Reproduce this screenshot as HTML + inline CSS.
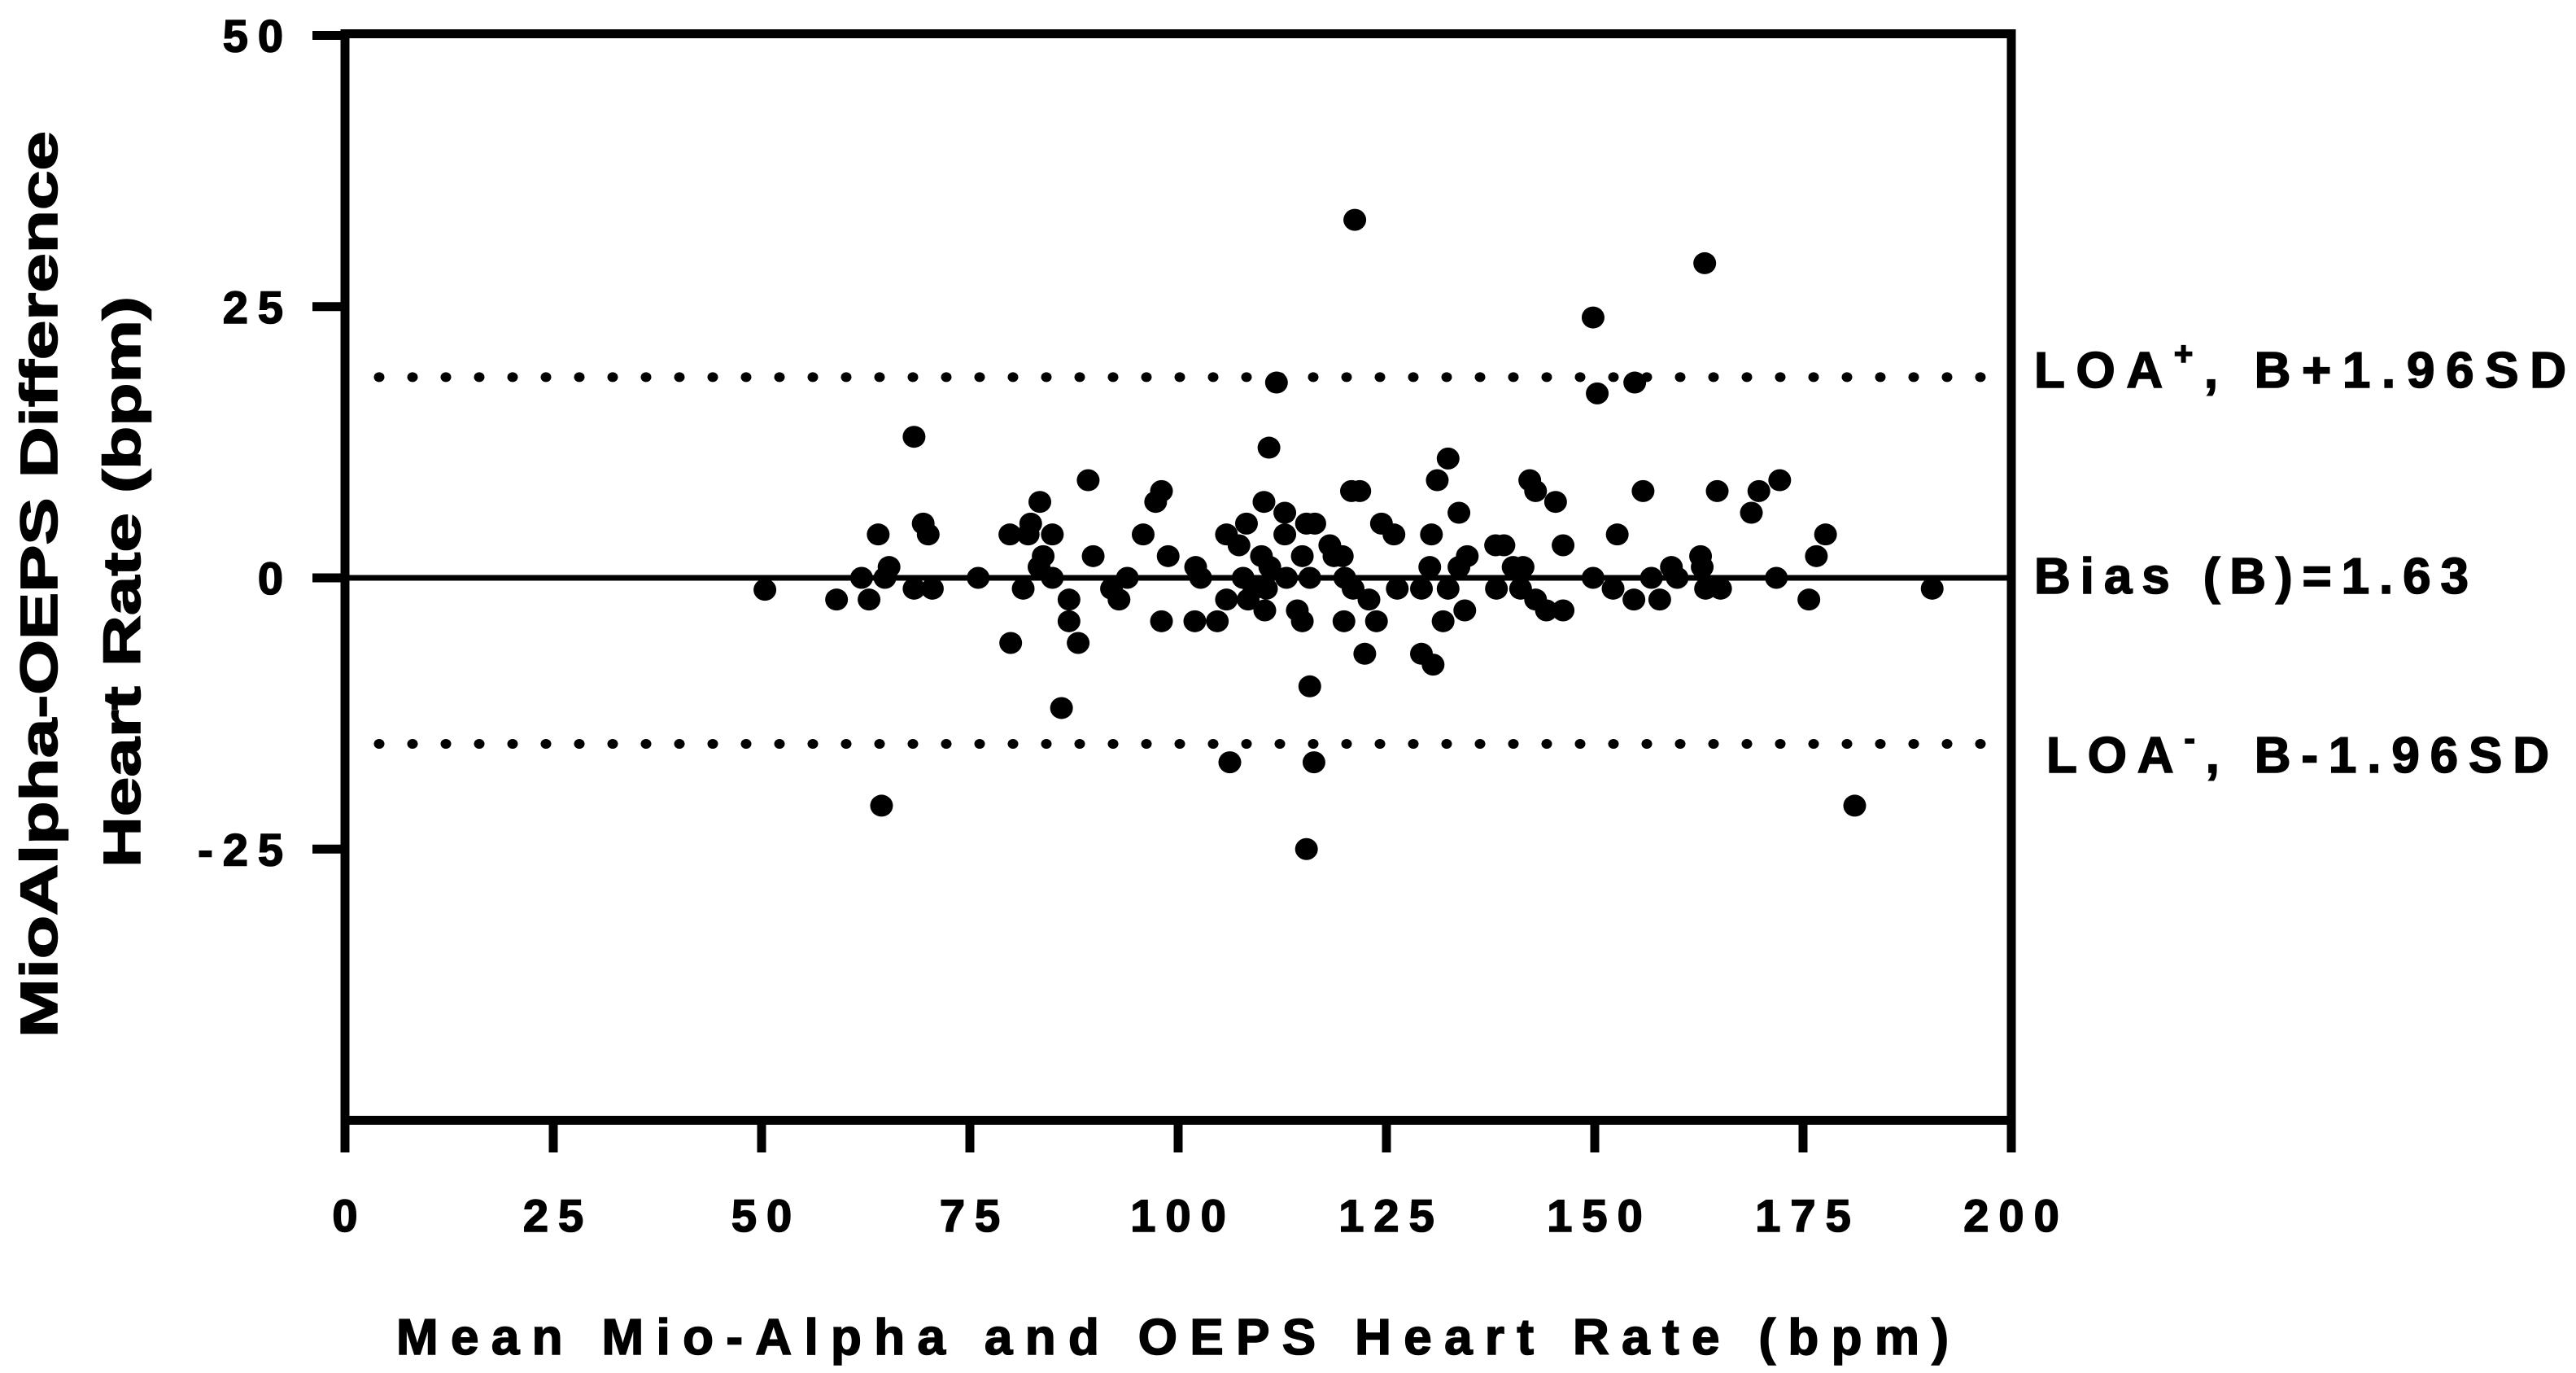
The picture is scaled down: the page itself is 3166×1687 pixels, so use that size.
<!DOCTYPE html>
<html><head><meta charset="utf-8"><style>
html,body{margin:0;padding:0;background:#fff;}
svg{display:block;}
text{font-family:"Liberation Sans",Arial,sans-serif;font-weight:bold;fill:#000;stroke:#000;stroke-width:1.6px;}
</style></head><body>
<svg id="chart" width="3166" height="1687" viewBox="0 0 3166 1687" xmlns="http://www.w3.org/2000/svg">
<rect width="3166" height="1687" fill="#fff"/>
<g id="grid"></g>
<text transform="translate(70,1275) rotate(-90)" font-size="64" textLength="1114" lengthAdjust="spacingAndGlyphs">MioAlpha-OEPS Difference</text>
<text transform="translate(172,1066) rotate(-90)" font-size="64" textLength="702" lengthAdjust="spacingAndGlyphs">Heart Rate (bpm)</text>
<text x="487" y="1664" font-size="62" textLength="1908" lengthAdjust="spacing">Mean Mio-Alpha and OEPS Heart Rate (bpm)</text>
<text x="2500" y="476" font-size="62" textLength="654" lengthAdjust="spacing">LOA<tspan dy="-28" font-size="40">+</tspan><tspan dy="28">, B+1.96SD</tspan></text>
<text x="2500" y="729" font-size="62" textLength="534" lengthAdjust="spacing">Bias (B)=1.63</text>
<text x="2515" y="949" font-size="62" textLength="618" lengthAdjust="spacing">LOA<tspan dy="-28" font-size="40">-</tspan><tspan dy="28">, B-1.96SD</tspan></text>
</svg>
<script>
const xVals = [50.4,59,62,62.9,64,64.8,65.3,64.4,68.3,68.3,69.4,70,70.5,76,79.8,79.9,81.4,82,82.3,83.4,83.8,83.3,84.9,84.9,86.9,86.9,86,88,89.2,89.8,92,92.9,93.9,95.8,97.3,98,98,98.8,102,102.1,102.7,104.7,105.8,105.8,106.2,107.3,107.8,108.2,108.4,109.1,110,110.3,110.4,110.9,111,110.6,111.8,112.8,112.8,113,114.3,114.9,114.9,115.4,115.8,116.3,115.4,116.4,115.8,118.2,118.7,119.7,120,119.9,120.8,121.8,121.2,121,122.4,122.9,123.8,124.4,125.9,126.3,129.2,130.6,130.2,130.4,131.1,132.4,129.2,132.4,131.8,133.7,134.4,134.7,133.7,138.1,139.1,138.2,140.2,141.4,141.1,142.2,142.9,142.9,144.2,145.3,146.2,146.2,149.8,150.3,149.8,152.2,152.7,154.8,154.7,155.8,156.8,157.8,159.2,159.9,162.7,163.2,162.9,163.3,165.1,164.7,168.8,169.7,172.2,171.8,175.7,176.6,177.7,181.2,190.5];
const yVals = [-1.1,-2,0,-2,4,0,1,-21,13,-1,5,4,-1,0,4,-6,-1,4,5,7,2,1,4,0,-2,-4,-12,-6,9,2,-1,-2,0,4,7,8,-4,2,-4,1,0,-4,4,-2,-17,3,0,5,-2,-1,2,7,-3,12,1,-1,18,6,4,0,-3,2,-4,-25,-10,-17,5,5,0,3,2,2,0,-4,8,8,33,-1,-7,-2,-4,5,4,-1,-7,-8,1,4,9,11,-1,-1,-4,6,-3,2,1,3,3,-1,1,1,-1,9,8,-2,-3,7,-3,3,24,17,0,-1,4,18,-2,8,0,-2,1,0,2,29,1,-1,-1,8,6,8,9,0,-2,2,4,-21,-1];
const xTicks = [0,25,50,75,100,125,150,175,200];
const xTickLabels = ["0","25","50","75","100","125","150","175","200"];
const yTicks = [50,25,0,-25];
const yTickLabels = ["50","25","0","-25"];
const biasLine = [0];
const loaUpper = [18.5];
const loaLower = [-15.3];

const NS = "http://www.w3.org/2000/svg";
const X0 = 424, X1 = 2472, Y0 = 43.5, Y1 = 1376.5;
function sx(v){ return X0 + (v - 0) / 200 * (X1 - X0); }
function sy(v){ return Y1 - (v + 50) / 100 * (Y1 - Y0); }
const g = document.getElementById('grid');
function mk(tag, attrs){ const e = document.createElementNS(NS, tag); for (const k in attrs) e.setAttribute(k, attrs[k]); g.appendChild(e); return e; }

const bl = mk('line', {x1: X0, x2: X1, y1: sy(biasLine[0]), y2: sy(biasLine[0]), stroke: '#000', 'stroke-width': 7});


[[loaUpper[0], 'loa-upper-line'], [loaLower[0], 'loa-lower-line']].forEach(function(p){
  const grp = document.createElementNS(NS, 'g');
  
  
  g.appendChild(grp);
  for (let x = 466; x < X1 - 20; x += 41) {
    const d = document.createElementNS(NS, 'ellipse');
    d.setAttribute('cx', x); d.setAttribute('cy', sy(p[0])); d.setAttribute('rx', 6.5); d.setAttribute('ry', 6);
    
    
    grp.appendChild(d);
  }
});

xVals.forEach(function(xv, i){
  const c = mk('ellipse', {cx: sx(xv), cy: sy(yVals[i]), rx: 14, ry: 13.5, fill: '#000'});
  
  
});

const fr = mk('rect', {x: X0, y: Y0 - 2, width: X1 - X0, height: Y1 - Y0 + 2, fill: 'none', stroke: '#000', 'stroke-width': 11});



yTicks.forEach(function(t, i){
  const l = mk('line', {x1: 384, x2: X0, y1: sy(t), y2: sy(t), stroke: '#000', 'stroke-width': 11});
  
  
  const tx = mk('text', {x: 360, y: sy(t) + 20, 'font-size': 56, 'text-anchor': 'end', 'letter-spacing': 12});
  tx.textContent = yTickLabels[i];
  
  
});
xTicks.forEach(function(t, i){
  const l = mk('line', {x1: sx(t), x2: sx(t), y1: Y1, y2: 1416, stroke: '#000', 'stroke-width': 11});
  
  
  const tx = mk('text', {x: sx(t) + 6, y: 1513, 'font-size': 56, 'text-anchor': 'middle', 'letter-spacing': 12});
  tx.textContent = xTickLabels[i];
  
  
});
</script>
</body></html>
